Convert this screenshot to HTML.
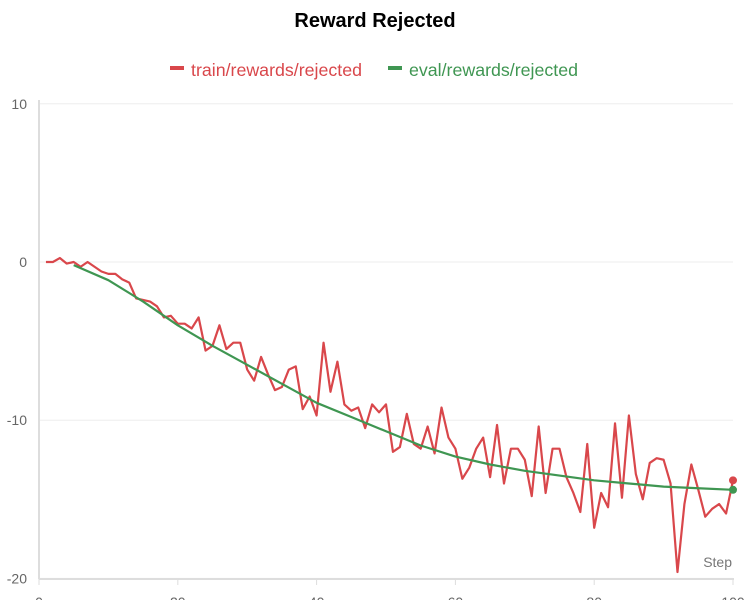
<!DOCTYPE html>
<html><head><meta charset="utf-8"><style>
body{margin:0;background:#fff;font-family:"Liberation Sans",Arial,sans-serif;}
svg{display:block}
</style></head><body>
<svg id="chart" width="750" height="600">
<text x="375" y="27" text-anchor="middle" font-size="20" font-weight="bold" fill="#000">Reward Rejected</text>
<g>
<g><rect x="170" y="66" width="14" height="4" fill="#d9474b"/><text x="191" y="76" font-size="17.8" fill="#d9474b">train/rewards/rejected</text></g>
<g><rect x="388" y="66" width="14" height="4" fill="#3f9652"/><text x="409" y="76" font-size="17.8" fill="#3f9652">eval/rewards/rejected</text></g>
</g>
<g id="grid"></g>
<g id="axes"></g>
<g id="series"></g>
<text x="732" y="567" text-anchor="end" font-size="14" fill="#777">Step</text>
</svg>
<script>
const yTicks=[10,0,-10,-20];
const xTicks=[0,20,40,60,80,100];
const trainSteps=[];for(let i=1;i<=100;i++)trainSteps.push(i);
const trainValues=[0,0,0.25,-0.1,0,-0.3,0,-0.3,-0.6,-0.75,-0.75,-1.1,-1.3,-2.3,-2.4,-2.5,-2.8,-3.5,-3.4,-3.9,-3.9,-4.2,-3.5,-5.6,-5.3,-4,-5.5,-5.1,-5.1,-6.8,-7.5,-6,-7.1,-8.1,-7.9,-6.8,-6.6,-9.3,-8.5,-9.7,-5.1,-8.2,-6.3,-9,-9.4,-9.2,-10.5,-9,-9.5,-9,-12,-11.7,-9.6,-11.5,-11.8,-10.4,-12.1,-9.2,-11.1,-11.8,-13.7,-13,-11.8,-11.1,-13.6,-10.3,-14,-11.8,-11.8,-12.5,-14.8,-10.4,-14.6,-11.8,-11.8,-13.6,-14.6,-15.8,-11.5,-16.8,-14.6,-15.5,-10.2,-14.9,-9.7,-13.4,-15,-12.7,-12.4,-12.5,-14,-19.6,-15.3,-12.8,-14.4,-16.1,-15.6,-15.3,-15.9,-13.8];
const evalSteps=[5,10,15,20,25,30,35,40,45,50,55,60,65,70,75,80,85,90,95,100];
const evalValues=[-0.2,-1.15,-2.5,-4.0,-5.3,-6.5,-7.7,-8.9,-9.8,-10.7,-11.6,-12.3,-12.8,-13.2,-13.5,-13.8,-14.0,-14.2,-14.3,-14.4];
const NS="http://www.w3.org/2000/svg";
const X=v=>39+v*6.94;
const Y=v=>262-v*15.82;
function mk(t,a,p){const e=document.createElementNS(NS,t);for(const k in a)e.setAttribute(k,a[k]);p.appendChild(e);return e;}
const grid=document.getElementById('grid'),axes=document.getElementById('axes'),series=document.getElementById('series');
yTicks.forEach(t=>{
 const l=mk('line',{x1:39,x2:733,y1:Y(t),y2:Y(t),stroke:'#eee','stroke-width':1},grid);
 
 
 const tx=mk('text',{x:27,y:Y(t)+5,'text-anchor':'end','font-size':14,fill:'#666'},axes);
 tx.textContent=t;
 
 
});
const ya=mk('line',{x1:39,x2:39,y1:100,y2:579,stroke:'#ddd','stroke-width':2},axes);


const xa=mk('line',{x1:39,x2:734,y1:579,y2:579,stroke:'#ddd','stroke-width':2},axes);


xTicks.forEach(t=>{
 const tk=mk('line',{x1:X(t),x2:X(t),y1:579,y2:585,stroke:'#ddd','stroke-width':1},axes);
 
 
 const tx=mk('text',{x:X(t),y:607,'text-anchor':'middle','font-size':14,fill:'#666'},axes);
 tx.textContent=t;
 
 
});
const tp=mk('polyline',{points:trainSteps.map((s,i)=>X(s)+','+Y(trainValues[i])).join(' '),fill:'none',stroke:'#d9474b','stroke-width':2.2,'stroke-linejoin':'round'},series);


const ep=mk('polyline',{points:evalSteps.map((s,i)=>X(s)+','+Y(evalValues[i])).join(' '),fill:'none',stroke:'#3f9652','stroke-width':2.2,'stroke-linejoin':'round'},series);


const tl=trainValues.length-1;
const td=mk('circle',{cx:X(trainSteps[tl]),cy:Y(trainValues[tl]),r:4,fill:'#d9474b'},series);


const el=evalValues.length-1;
const ed=mk('circle',{cx:X(evalSteps[el]),cy:Y(evalValues[el]),r:4,fill:'#3f9652'},series);


</script>
</body></html>
